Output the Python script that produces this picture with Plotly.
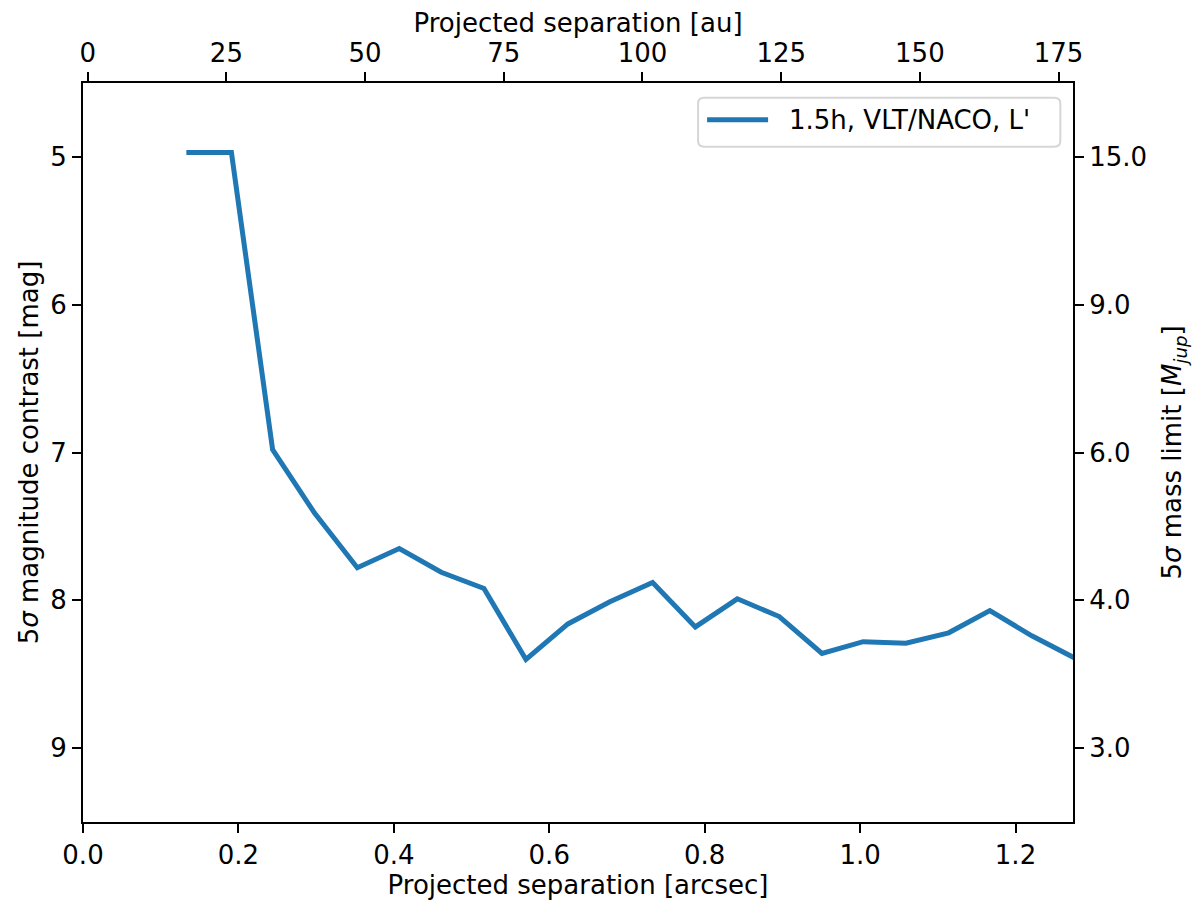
import plotly.graph_objects as go

# Data
sep_arcsec = [0.133, 0.191, 0.244, 0.298, 0.353, 0.407, 0.461, 0.516, 0.570, 0.624,
              0.678, 0.733, 0.788, 0.842, 0.896, 0.951, 1.004, 1.059, 1.114, 1.167,
              1.221, 1.276]
contrast_mag = [4.97, 4.97, 6.98, 7.41, 7.78, 7.65, 7.81, 7.92, 8.40, 8.16,
                8.01, 7.88, 8.18, 7.99, 8.11, 8.36, 8.28, 8.29, 8.22, 8.07,
                8.24, 8.39]
series_name = "1.5h, VLT/NACO, L'"

x_ticks = [0.0, 0.2, 0.4, 0.6, 0.8, 1.0, 1.2]
x_tick_labels = ["0.0", "0.2", "0.4", "0.6", "0.8", "1.0", "1.2"]
au_ticks = [0, 25, 50, 75, 100, 125, 150, 175]
mag_ticks = [5, 6, 7, 8, 9]
mass_tick_labels = ["15.0", "9.0", "6.0", "4.0", "3.0"]

x_range = [0, 1.274]
au_range = [-0.85, 177.6]
mag_range = [9.5, 4.5]

FONT = "DejaVu Sans"
FS = 26
LINE_COLOR = "#1f77b4"

fig = go.Figure()
fig.add_trace(go.Scatter(
    x=sep_arcsec, y=contrast_mag, mode="lines",
    line=dict(color=LINE_COLOR, width=5),
    name=series_name, showlegend=False,
))
# invisible helper trace so the secondary axes exist
fig.add_trace(go.Scatter(x=[au_ticks[1]], y=[mag_ticks[0]], xaxis="x2", yaxis="y2",
                         mode="markers", marker=dict(opacity=0), showlegend=False,
                         hoverinfo="skip"))

axis_common = dict(
    showline=True, linecolor="black", linewidth=2, mirror=False,
    ticks="outside", ticklen=9, tickwidth=2, tickcolor="black",
    showgrid=False, zeroline=False, automargin=False,
    tickfont=dict(family=FONT, size=FS, color="black"),
)

fig.update_layout(
    width=1192, height=905,
    margin=dict(l=75, r=127, t=75, b=91),
    paper_bgcolor="white", plot_bgcolor="white",
    font=dict(family=FONT, size=FS, color="black"),
    xaxis=dict(range=x_range, tickvals=x_ticks, ticktext=x_tick_labels,
               title=dict(text="Projected separation [arcsec]", standoff=2,
                          font=dict(family=FONT, size=FS)),
               **axis_common),
    xaxis2=dict(range=au_range, tickvals=au_ticks, overlaying="x", side="top",
                title=dict(text="Projected separation [au]", standoff=16,
                           font=dict(family=FONT, size=FS)),
                **axis_common),
    yaxis=dict(range=mag_range, tickvals=mag_ticks,
               title=dict(text="5<i>σ</i> magnitude contrast [mag]", standoff=4,
                          font=dict(family=FONT, size=FS)),
               **axis_common),
    yaxis2=dict(range=mag_range, tickvals=mag_ticks, ticktext=mass_tick_labels,
                overlaying="y", side="right",
                title=dict(text="5<i>σ</i> mass limit [<i>M</i><sub><i>jup</i></sub>]",
                           standoff=17, font=dict(family=FONT, size=FS)),
                **axis_common),
    showlegend=False,
)

# Matplotlib-style legend box (rounded frame, long line handle, label)
bx0, bx1, by0, by1 = 0.6213, 0.9872, 0.9138, 0.9801
rx, ry = 0.006, 0.008
path = (f"M {bx0+rx},{by1} L {bx1-rx},{by1} Q {bx1},{by1} {bx1},{by1-ry} "
        f"L {bx1},{by0+ry} Q {bx1},{by0} {bx1-rx},{by0} L {bx0+rx},{by0} "
        f"Q {bx0},{by0} {bx0},{by0+ry} L {bx0},{by1-ry} Q {bx0},{by1} {bx0+rx},{by1} Z")
fig.add_shape(type="path", path=path, xref="paper", yref="paper",
              line=dict(color="#d6d6d6", width=2), fillcolor="rgba(255,255,255,0.8)")
fig.add_shape(type="line", xref="paper", yref="paper",
              x0=0.6304, x1=0.6920, y0=0.9503, y1=0.9503,
              line=dict(color=LINE_COLOR, width=5))
fig.add_annotation(text=series_name, xref="paper", yref="paper",
                   x=0.7109, y=0.9503, xanchor="left", yanchor="middle",
                   showarrow=False, font=dict(family=FONT, size=FS, color="black"))

fig.write_html("out.html")
